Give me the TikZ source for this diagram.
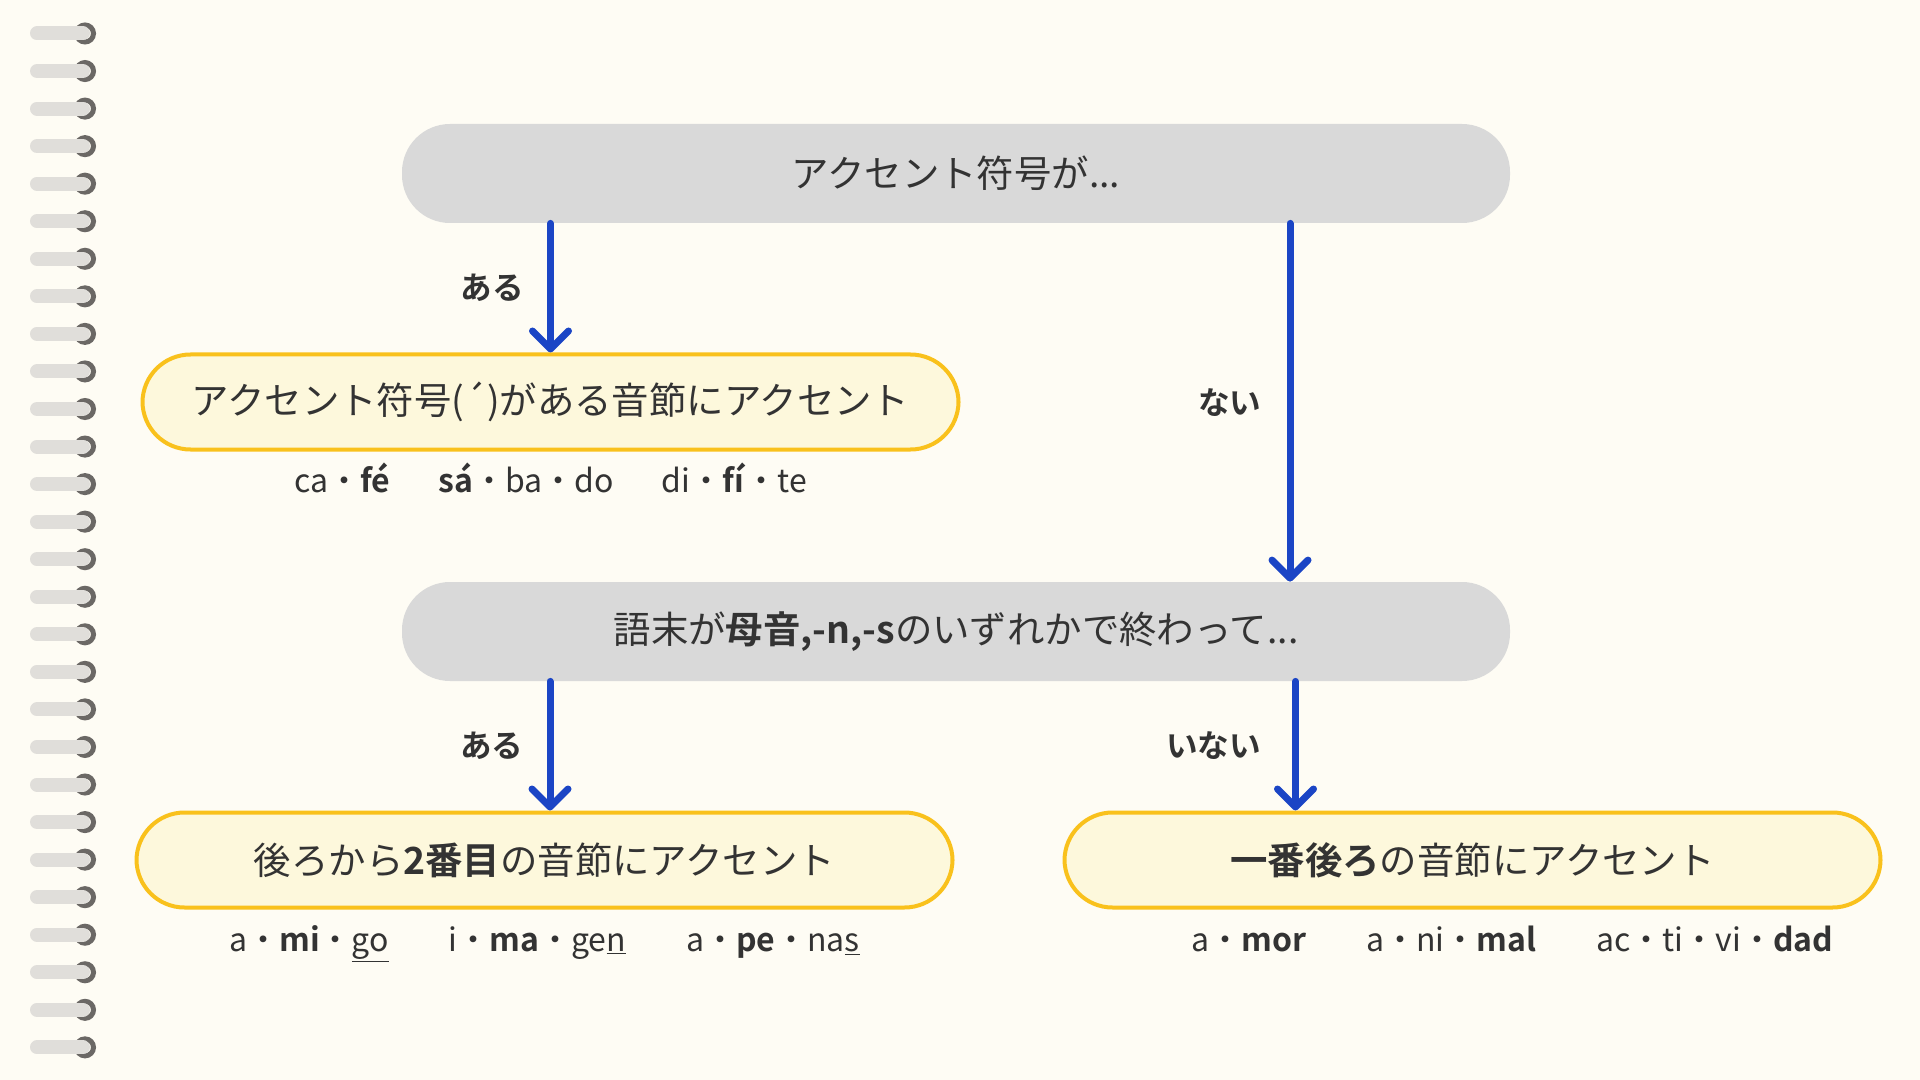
\documentclass[tikz,border=0pt]{standalone}
\usepackage{fontspec}
\setmainfont{Noto Sans CJK JP}[BoldFont={Noto Sans CJK JP Bold}]
\usetikzlibrary{arrows.meta, positioning}

\definecolor{paper}{HTML}{FEFCF4}
\definecolor{ink}{HTML}{333333}
\definecolor{askgray}{HTML}{D9D9D9}
\definecolor{rulefill}{HTML}{FDF8DC}
\definecolor{ruleedge}{HTML}{F9C11C}
\definecolor{flowblue}{HTML}{1B45C5}
\definecolor{ringdark}{HTML}{6B6865}
\definecolor{ringbar}{HTML}{E0DEDA}

\begin{document}
\begin{tikzpicture}[
    x=0.5pt, y=-0.5pt,
    ask/.style={fill=askgray, rounded corners=24pt, minimum width=554pt, minimum height=49.5pt,
                inner sep=0pt, text=ink, font=\fontsize{18.7}{22}\selectfont},
    accent/.style={draw=ruleedge, line width=2pt, fill=rulefill, rounded corners=24pt,
                   minimum width=408pt, minimum height=47.5pt, inner sep=0pt, text=ink,
                   font=\fontsize{18.7}{22}\selectfont},
    sample/.style={inner sep=0pt, text=ink, font=\fontsize{16}{19}\selectfont},
    reply/.style={inner sep=0pt, text=ink, font=\bfseries\fontsize{15.8}{18}\selectfont},
    flow/.style={draw=flowblue, line width=3.5pt, line cap=round,
                 -{Straight Barb[round, length=9pt, width=18pt]}}
  ]
    \fill[paper] (0,0) rectangle (1920,1080);
    \useasboundingbox (0,0) rectangle (1920,1080);

    % notebook rings
    \foreach \k in {0,...,27} {
      \draw[ringdark, line width=2.5pt] (85,33.5+37.55*\k) circle[radius=4.25pt];
      \draw[ringbar, line width=7pt, line cap=round] (37,33.5+37.55*\k) -- (83,33.5+37.55*\k);
    }

    \node[ask] (top) at (956,173.5) {アクセント符号が...};
    \node[accent] (mark) at (550.5,402) {アクセント符号(´)がある音節にアクセント};
    \node[ask] (mid) at (956,631.5) {語末が\textbf{母音,-n,-s}のいずれかで終わって...};
    \node[accent] (second) at (544.5,860) {後ろから\textbf{2番目}の音節にアクセント};
    \node[accent] (last) at (1472.5,860) {\textbf{一番後ろ}の音節にアクセント};

    \node[sample, anchor=base] (markex) at (550.5,492)
      {ca・\textbf{fé}\hspace{24pt}\textbf{sá}・ba・do\hspace{24pt}di・\textbf{fí}・te};
    \node[sample, anchor=base] (secondex) at (544.5,951)
      {a・\textbf{mi}・\underline{go}\hspace{30pt}i・\textbf{ma}・ge\underline{n}\hspace{30pt}a・\textbf{pe}・na\underline{s}};
    \node[sample, anchor=base west] (lastex) at (1191,951)
      {a・\textbf{mor}\hspace{30pt}a・ni・\textbf{mal}\hspace{30pt}ac・ti・vi・\textbf{dad}};

    \coordinate (nomark) at (1290,0);
    \coordinate (noend) at (1295.5,0);

    \draw[flow] (top.south -| mark) -- (mark.north) node[midway, left=11.5pt, reply] {ある};
    \draw[flow] (top.south -| nomark) -- (mid.north -| nomark) node[midway, left=12.5pt, reply] {ない};
    \draw[flow] (mid.south -| 550,0) -- (second.north -| 550,0) node[midway, left=11.5pt, reply] {ある};
    \draw[flow] (mid.south -| noend) -- (last.north -| noend) node[midway, left=15.5pt, reply] {いない};
  \end{tikzpicture}
\end{document}
